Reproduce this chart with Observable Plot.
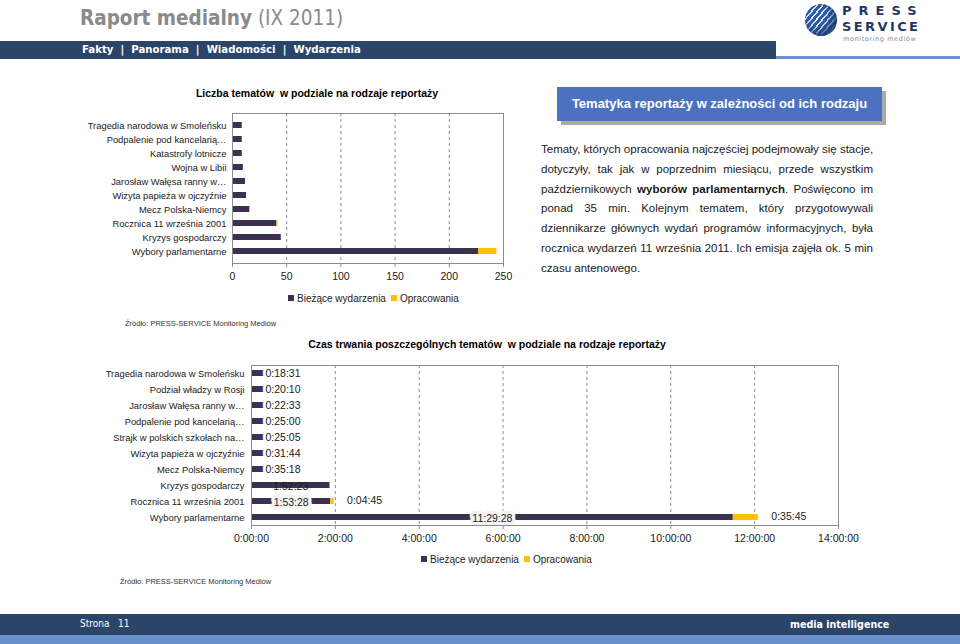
<!DOCTYPE html>
<html><head><meta charset="utf-8">
<script src="https://cdn.jsdelivr.net/npm/d3@7"></script>
<script src="https://cdn.jsdelivr.net/npm/@observablehq/plot@0.6"></script>
<style>
html,body{margin:0;padding:0;background:#fff;}
#page{position:relative;width:960px;height:644px;overflow:hidden;font-family:"Liberation Sans",Arial,sans-serif;color:#1a1a1a;}
.abs{position:absolute;}
#title{left:80px;top:6px;font-family:"DejaVu Sans Condensed",sans-serif;font-size:20.5px;color:#8a8a8a;white-space:nowrap;}
#title b{font-weight:bold;}
#nav{left:0;top:41px;width:776px;height:18px;background:#2b4569;}
#navline{left:776px;top:56px;width:184px;height:3px;background:#6a8fcd;}
#navtext{left:82px;top:43px;font-family:"DejaVu Sans Condensed",sans-serif;font-weight:bold;font-size:11.3px;color:#fff;white-space:pre;}
#logoC{left:805px;top:4px;width:32px;height:32px;border-radius:50%;background:repeating-linear-gradient(-50deg,#2d5da8 0px,#2d5da8 3px,#dfe8f5 3px,#dfe8f5 4.5px);box-shadow:inset -4px -4px 8px #1b3a70;}
.logoT{left:842px;font-family:"DejaVu Sans",sans-serif;font-weight:bold;color:#1f3766;font-size:13px;line-height:15px;white-space:nowrap;}
#logoS{left:843px;top:35px;font-family:"DejaVu Sans",sans-serif;font-size:6.5px;line-height:8px;color:#8a8a8a;letter-spacing:0.6px;white-space:nowrap;}
#box{left:557px;top:87px;width:325px;height:34px;background:#4c72bf;box-shadow:4px 4px 0 #a9a9a9;color:#fff;font-weight:bold;font-size:13px;line-height:34px;text-align:center;font-family:"Liberation Sans",Arial,sans-serif;}
#para{left:541px;top:140px;width:332px;font-size:11.5px;line-height:19.8px;color:#1a1a1a;}
#para div{text-align:justify;text-align-last:justify;white-space:nowrap;}
#para div.last{text-align-last:left;}
.ctitle{font-weight:bold;font-size:10.5px;color:#000;white-space:pre;text-align:center;}
.legend{font-size:10px;color:#222;white-space:nowrap;}
.sw{display:inline-block;width:6px;height:6px;margin-right:3px;vertical-align:1px;}
.src{font-size:7.5px;color:#333;white-space:nowrap;}
#foot{left:0;top:614px;width:960px;height:21px;background:#2b4569;}
#footline{left:0;top:635px;width:960px;height:9px;background:#6a8fcd;}
#strona{left:80px;top:618px;color:#fff;font-family:"DejaVu Sans Condensed",sans-serif;font-size:10px;white-space:pre;}
#mi{left:790px;top:618px;color:#fff;font-family:"DejaVu Sans Condensed",sans-serif;font-weight:bold;font-size:10.6px;}
svg{overflow:visible;}
</style></head>
<body><div id="page">
<div id="title" class="abs"><b>Raport medialny</b> (IX 2011)</div>
<div id="nav" class="abs"></div><div id="navline" class="abs"></div>
<div id="navtext" class="abs">Fakty  |  Panorama  |  Wiadomości  |  Wydarzenia</div>
<div id="logoC" class="abs"></div>
<div class="abs logoT" style="top:3px;letter-spacing:7px;">PRESS</div>
<div class="abs logoT" style="top:19px;letter-spacing:2.4px;">SERVICE</div>
<div id="logoS" class="abs">monitoring mediów</div>

<div id="c1title" class="abs ctitle" style="left:187px;top:87px;width:260px;">Liczba tematów  w podziale na rodzaje reportaży</div>
<div id="chart1" class="abs" style="left:0;top:100px;"></div>
<div id="leg1" class="abs legend" style="left:288px;top:293px;"></div>
<div class="abs src" style="left:125px;top:319px;">Źródło: PRESS-SERVICE Monitoring Mediów</div>

<div id="box" class="abs">Tematyka reportaży w zależności od ich rodzaju</div>
<div id="para" class="abs">
<div>Tematy, których opracowania najczęściej podejmowały się stacje,</div>
<div>dotyczyły, tak jak w poprzednim miesiącu, przede wszystkim</div>
<div>październikowych <b>wyborów parlamentarnych</b>. Poświęcono im</div>
<div>ponad 35 min. Kolejnym tematem, który przygotowywali</div>
<div>dziennikarze głównych wydań programów informacyjnych, była</div>
<div>rocznica wydarzeń 11 września 2011. Ich emisja zajęła ok. 5 min</div>
<div class="last">czasu antenowego.</div>
</div>

<div id="c2title" class="abs ctitle" style="left:307px;top:338px;width:360px;">Czas trwania poszczególnych tematów  w podziale na rodzaje reportaży</div>
<div id="chart2" class="abs" style="left:0;top:355px;"></div>
<div id="leg2" class="abs legend" style="left:421px;top:554px;"></div>
<div class="abs src" style="left:120px;top:577px;">Źródło: PRESS-SERVICE Monitoring Mediów</div>

<div id="foot" class="abs"></div><div id="footline" class="abs"></div>
<div id="strona" class="abs">Strona   11</div>
<div id="mi" class="abs">media intelligence</div>
</div>
<script>
// ---- data ----
const seriesNames = ["Bieżące wydarzenia", "Opracowania"];
const seriesColors = ["#3d3152", "#ffc000"];

const topics1 = ["Tragedia narodowa w Smoleńsku","Podpalenie pod kancelarią…","Katastrofy lotnicze","Wojna w Libii","Jarosław Wałęsa ranny w…","Wizyta papieża w ojczyźnie","Mecz Polska-Niemcy","Rocznica 11 września 2001","Kryzys gospodarczy","Wybory parlamentarne"];
const current1 = [9, 9, 9, 10, 12, 13, 16, 41, 45, 227];
const prepared1 = [0, 0, 0, 0, 0, 0, 0, 1, 0, 17];
const ticks1 = [0, 50, 100, 150, 200, 250];

const topics2 = ["Tragedia narodowa w Smoleńsku","Podział władzy w Rosji","Jarosław Wałęsa ranny w…","Podpalenie pod kancelarią…","Strajk w polskich szkołach na…","Wizyta papieża w ojczyźnie","Mecz Polska-Niemcy","Kryzys gospodarczy","Rocznica 11 września 2001","Wybory parlamentarne"];
const current2 = ["0:18:31","0:20:10","0:22:33","0:25:00","0:25:05","0:31:44","0:35:18","1:52:23","1:53:28","11:29:28"];
const prepared2 = [null,null,null,null,null,null,null,null,"0:04:45","0:35:45"];
const ticks2 = ["0:00:00","2:00:00","4:00:00","6:00:00","8:00:00","10:00:00","12:00:00","14:00:00"];

// ---- helpers ----
const toH = s => { const [h,m,x] = s.split(":").map(Number); return h + m/60 + x/3600; };
const color = {domain: seriesNames, range: seriesColors};
const baseStyle = {fontFamily: '"Liberation Sans", Arial, sans-serif', fontSize: "10px", color: "#1a1a1a", background: "transparent"};

function legend(id){
  document.getElementById(id).innerHTML = seriesNames.map((n,i)=>
    `<span class="sw" style="background:${seriesColors[i]}"></span>${n}`).join('<span style="display:inline-block;width:5px"></span>');
}
legend("leg1"); legend("leg2");

// ---- chart 1 ----
const long1 = [];
topics1.forEach((t,i)=>{ long1.push({topic:t, series:seriesNames[0], value:current1[i]});
  if (prepared1[i]) long1.push({topic:t, series:seriesNames[1], value:prepared1[i]}); });

const c1 = Plot.plot({
  width: 520, height: 185,
  marginLeft: 232, marginRight: 17, marginTop: 13, marginBottom: 22,
  style: baseStyle,
  x: {domain: [0, 250], ticks: ticks1, label: null},
  y: {domain: topics1, paddingInner: 0.6, paddingOuter: 0.33, label: null},
  color,
  marks: [
    Plot.ruleX(ticks1.slice(1, -1), {stroke: "#8c8c8c", strokeDasharray: "3,3", strokeWidth: 1}),
    Plot.barX(long1, {y: "topic", x: "value", fill: "series", order: seriesNames}),
    Plot.frame({stroke: "#8c8c8c"}),
    Plot.axisX({ticks: ticks1, tickSize: 4, tickPadding: 5, stroke: "#8c8c8c", fill: "#1a1a1a", label: null, fontSize: 10.5}),
    Plot.axisY({tickSize: 0, tickPadding: 6, fill: "#1a1a1a", label: null, fontSize: 9.4})
  ]
});
document.getElementById("chart1").appendChild(c1);

// ---- chart 2 ----
const rows2 = topics2.map((t,i)=>({topic:t, cur: toH(current2[i]), prep: prepared2[i] ? toH(prepared2[i]) : 0, curLabel: current2[i], prepLabel: prepared2[i]}));
const long2 = [];
rows2.forEach(r=>{ long2.push({topic:r.topic, series:seriesNames[0], value:r.cur});
  if (r.prep) long2.push({topic:r.topic, series:seriesNames[1], value:r.prep}); });
const tickH = ticks2.map(toH);
const shortRows = rows2.filter(r => r.cur < 1);
const longRows = rows2.filter(r => r.cur >= 1);

const c2 = Plot.plot({
  width: 960, height: 192,
  marginLeft: 251, marginRight: 122, marginTop: 10, marginBottom: 22,
  style: baseStyle,
  x: {domain: [0, 14], label: null},
  y: {domain: topics2, paddingInner: 0.625, paddingOuter: 0.31, label: null},
  color,
  marks: [
    Plot.ruleX(tickH.slice(1, -1), {stroke: "#8c8c8c", strokeDasharray: "3,3", strokeWidth: 1}),
    Plot.barX(long2, {y: "topic", x: "value", fill: "series", order: seriesNames}),
    Plot.text(shortRows, {y: "topic", x: () => 0, dx: 14, text: "curLabel", textAnchor: "start", fill: "#1a1a1a", stroke: "#fff", strokeWidth: 6, fontSize: 10.5}),
    Plot.text(longRows, {y: "topic", x: r => r.cur / 2, text: "curLabel", textAnchor: "middle", fill: "#1a1a1a",
      stroke: r => r.prep ? "#f4f4f4" : "none", strokeWidth: 7, fontSize: 10.5, dy: 1}),
    Plot.text(rows2.filter(r => r.prep), {y: "topic", x: r => r.cur + r.prep, dx: 13, text: "prepLabel", textAnchor: "start", fill: "#1a1a1a", fontSize: 10.5, dy: -1}),
    Plot.frame({stroke: "#8c8c8c"}),
    Plot.axisX({ticks: tickH, tickFormat: (d,i) => ticks2[i], tickSize: 4, tickPadding: 5, stroke: "#8c8c8c", fill: "#1a1a1a", fontSize: 10.5, label: null}),
    Plot.axisY({tickSize: 0, tickPadding: 7, fill: "#1a1a1a", label: null, fontSize: 9.4})
  ]
});
document.getElementById("chart2").appendChild(c2);
</script>
</body></html>
